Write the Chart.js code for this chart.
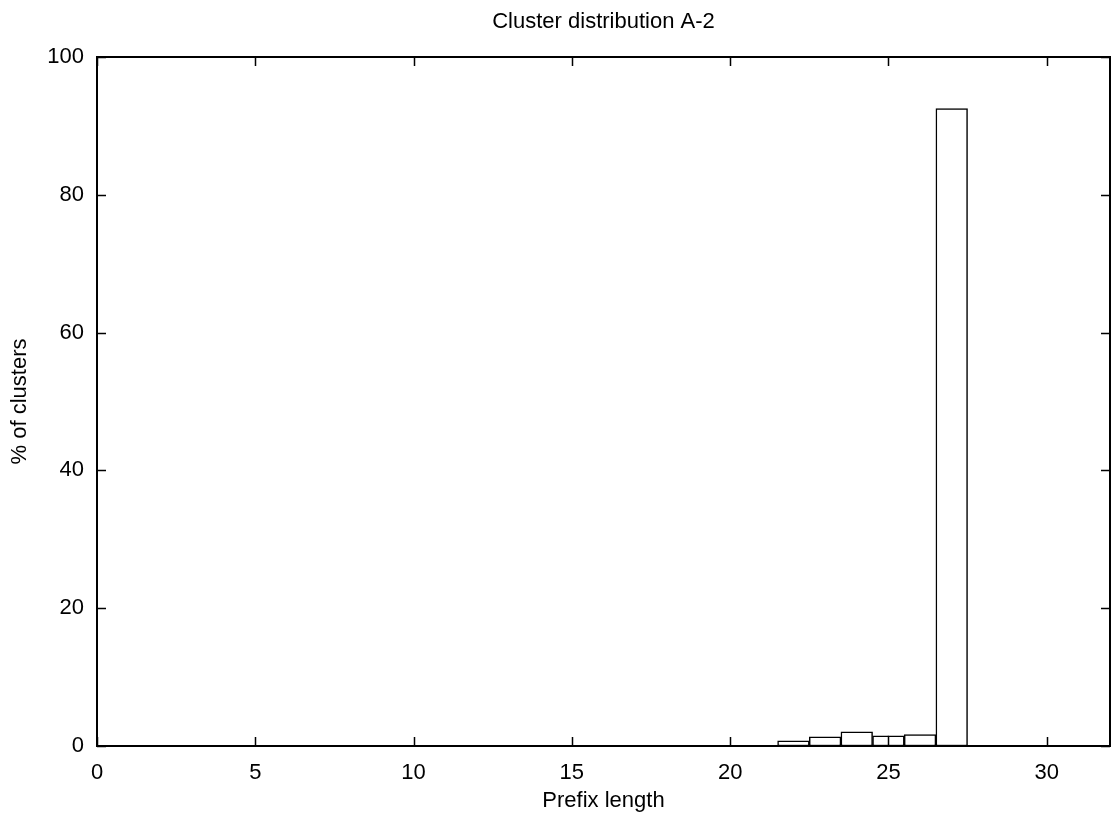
<!DOCTYPE html>
<html>
<head>
<meta charset="utf-8">
<script src="https://cdn.jsdelivr.net/npm/chart.js@4/dist/chart.umd.min.js"></script>
<style>
    html, body { margin: 0; padding: 0; background: #fff; }
    canvas { display: block; }
</style>
</head>
<body>
<canvas id="clusterChart" width="1111" height="825"></canvas>
<script>
// data
const prefixLengths = [22, 23, 24, 25, 26, 27];
const clusterPercent = [0.75, 1.33, 2.06, 1.48, 1.67, 92.5];
// prefix 25 shows up as two records, so its box is split in the middle
const splitPrefixes = [25];

const xTicks = [0, 5, 10, 15, 20, 25, 30];
const yTicks = [0, 20, 40, 60, 80, 100];

const FONT = "'Liberation Sans', Arial, Helvetica, sans-serif";
const FONT_SIZE = 22;

/**
 * gnuplot style frame with inward ticks on all four sides
 */
const frameTicks = {
    id: "frameTicks",
    afterDatasetsDraw(chart) {
        const { ctx, chartArea: a, scales } = chart;
        const len = 9;
        ctx.save();
        ctx.strokeStyle = "#000";
        ctx.lineWidth = 1.5;
        ctx.beginPath();
        for (let v of xTicks) {
            let px = Math.round(scales.x.getPixelForValue(v)) + 0.5;
            ctx.moveTo(px, a.bottom);
            ctx.lineTo(px, a.bottom - len);
            ctx.moveTo(px, a.top);
            ctx.lineTo(px, a.top + len);
        }
        for (let v of yTicks) {
            let py = Math.round(scales.y.getPixelForValue(v)) + 0.5;
            ctx.moveTo(a.left, py);
            ctx.lineTo(a.left + len, py);
            ctx.moveTo(a.right, py);
            ctx.lineTo(a.right - len, py);
        }
        ctx.stroke();
        ctx.lineWidth = 2;
        ctx.strokeRect(a.left, a.top, a.right - a.left, a.bottom - a.top);
        ctx.restore();
    },
};

function _renderClusterChart() {
    const bars = prefixLengths.map((p, i) => ({ x: p, y: clusterPercent[i] }));

    const splitLines = splitPrefixes.map((p) => {
        const value = clusterPercent[prefixLengths.indexOf(p)];
        return {
            type: "line",
            data: [
                { x: p, y: 0 },
                { x: p, y: value },
            ],
            borderColor: "#000",
            borderWidth: 1.5,
            pointRadius: 0,
            fill: false,
        };
    });

    const data = {
        datasets: [
            {
                type: "bar",
                data: bars,
                backgroundColor: "#fff",
                borderColor: "#000",
                borderWidth: 1.5,
                borderSkipped: false,
                barPercentage: 1,
                categoryPercentage: 1,
            },
            ...splitLines,
        ],
    };

    const config = {
        type: "bar",
        data: data,
        options: {
            responsive: false,
            animation: false,
            layout: {
                padding: { left: 0, right: 1, top: 0, bottom: 0 },
            },
            scales: {
                x: {
                    type: "linear",
                    min: 0,
                    max: 32,
                    offset: false,
                    afterBuildTicks: (scale) => {
                        scale.ticks = xTicks.map((v) => ({ value: v }));
                    },
                    afterFit: (scale) => {
                        scale.height = 79;
                    },
                    grid: { display: false, drawTicks: false, offset: false },
                    border: { display: false },
                    ticks: {
                        maxRotation: 0,
                        padding: 14,
                        color: "#000",
                        font: { family: FONT, size: FONT_SIZE },
                    },
                    title: {
                        display: true,
                        text: "Prefix length",
                        color: "#000",
                        padding: { top: 0, bottom: 11 },
                        font: { family: FONT, size: FONT_SIZE },
                    },
                },
                y: {
                    min: 0,
                    max: 100,
                    afterBuildTicks: (scale) => {
                        scale.ticks = yTicks.map((v) => ({ value: v }));
                    },
                    afterFit: (scale) => {
                        scale.width = 97;
                    },
                    grid: { display: false, drawTicks: false },
                    border: { display: false },
                    ticks: {
                        padding: 13,
                        color: "#000",
                        font: { family: FONT, size: FONT_SIZE },
                    },
                    title: {
                        display: true,
                        text: "% of clusters",
                        color: "#000",
                        padding: { top: 7, bottom: 0 },
                        font: { family: FONT, size: FONT_SIZE },
                    },
                },
            },
            plugins: {
                legend: { display: false },
                tooltip: { enabled: false },
                title: {
                    display: true,
                    fullSize: false,
                    text: "Cluster distribution A-2",
                    color: "#000",
                    padding: { top: 9, bottom: 21.6 },
                    font: { family: FONT, size: FONT_SIZE, weight: "normal" },
                },
            },
        },
        plugins: [frameTicks],
    };

    new Chart(document.getElementById("clusterChart"), config);
}

_renderClusterChart();
</script>
</body>
</html>
